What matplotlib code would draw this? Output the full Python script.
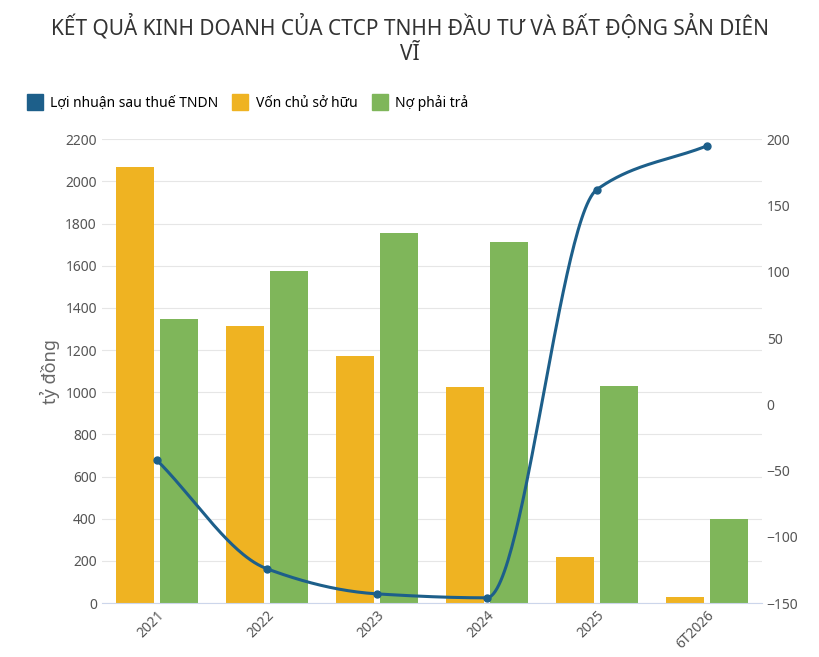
import matplotlib.pyplot as plt
import numpy as np

plt.rcParams['font.family'] = ['Noto Sans', 'DejaVu Sans']

years = ['2021', '2022', '2023', '2024', '2025', '6T2026']
von_chu = [2070, 1313, 1171, 1024, 218, 28]
no_phai_tra = [1347, 1574, 1754, 1712, 1029, 398]
loi_nhuan = [-42, -124, -143, -146, 162, 195]

c_blue = '#1d5f8a'
c_orange = '#efb322'
c_green = '#7fb65a'


def pchip(x, y, xs):
    # monotone cubic hermite, only for drawing a smooth line between the points
    x = np.asarray(x, float); y = np.asarray(y, float)
    h = np.diff(x); d = np.diff(y) / h
    m = np.zeros_like(y)
    for i in range(1, len(y) - 1):
        if d[i - 1] * d[i] > 0:
            m[i] = 2 / (1 / d[i - 1] + 1 / d[i])
    m[0], m[-1] = d[0], d[-1]
    out = []
    for t in xs:
        i = min(int(np.searchsorted(x, t, side='right') - 1), len(h) - 1)
        s = (t - x[i]) / h[i]
        h00 = 2*s**3 - 3*s**2 + 1; h10 = s**3 - 2*s**2 + s
        h01 = -2*s**3 + 3*s**2; h11 = s**3 - s**2
        out.append(h00*y[i] + h10*h[i]*m[i] + h01*y[i+1] + h11*h[i]*m[i+1])
    return np.array(out)


fig = plt.figure(figsize=(8.2, 6.57), dpi=100)
ax = fig.add_axes([0.124, 0.082, 0.805, 0.706])
ax2 = ax.twinx()

x = np.arange(len(years))
w = 0.345
ax.bar(x - 0.2, von_chu, w, color=c_orange, zorder=2)
ax.bar(x + 0.2, no_phai_tra, w, color=c_green, zorder=2)
ax.set_ylim(0, 2200)
ax.set_yticks(range(0, 2201, 200))
ax.set_xlim(-0.5, 5.5)
ax.set_xticks(x)
ax.set_xticklabels(years, rotation=-45, ha='left', rotation_mode='anchor')
ax.set_xticklabels(years, rotation=45, ha='right', rotation_mode='anchor')
ax.grid(axis='y', color='#e6e6e6', linewidth=0.8, zorder=0)
ax.set_ylabel('tỷ đồng', color='#666666', fontsize=13)

xs = np.linspace(0, 5, 300)
ax2.plot(xs, pchip(x, loi_nhuan, xs), color=c_blue, linewidth=2.2, zorder=3)
ax2.plot(x, loi_nhuan, 'o', color=c_blue, markersize=5, zorder=4)
ax2.set_ylim(-150, 200)
ax2.set_yticks(range(-150, 201, 50))

for a in (ax, ax2):
    for s in a.spines.values():
        s.set_visible(False)
    a.tick_params(length=0, labelsize=10, colors='#555555')
ax.spines['bottom'].set_visible(True)
ax.spines['bottom'].set_color('#ccd6eb')

fig.text(0.5, 0.94, 'KẾT QUẢ KINH DOANH CỦA CTCP TNHH ĐẦU TƯ VÀ BẤT ĐỘNG SẢN DIÊN\nVĨ',
         ha='center', va='center', fontsize=15, fontweight='bold', color='#333333',
         linespacing=1.3)

handles = [plt.Line2D([], [], marker='s', linestyle='', markersize=11, color=c)
           for c in (c_blue, c_orange, c_green)]
fig.legend(handles, ['Lợi nhuận sau thuế TNDN', 'Vốn chủ sở hữu', 'Nợ phải trả'],
           loc='upper left', bbox_to_anchor=(0.01, 0.875), ncol=3, frameon=False,
           fontsize=10, handletextpad=0.1, columnspacing=0.6)

fig.savefig('out.png', dpi=100)
